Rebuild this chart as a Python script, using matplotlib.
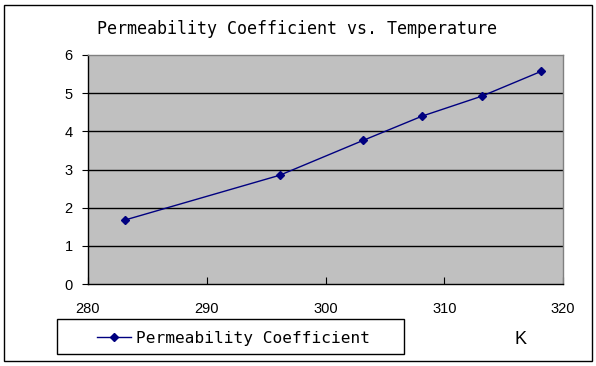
import matplotlib
matplotlib.use("Agg")
import matplotlib.pyplot as plt
from matplotlib.patches import Rectangle

temperature = [283.15, 296.15, 303.15, 308.15, 313.15, 318.15]
permeability = [1.68, 2.85, 3.76, 4.40, 4.92, 5.57]
x_ticks = [280, 290, 300, 310, 320]
y_ticks = [0, 1, 2, 3, 4, 5, 6]
title = "Permeability Coefficient vs. Temperature"
series_name = "Permeability Coefficient"
x_unit = "K"

W, H = 596, 366
fig = plt.figure(figsize=(W / 100, H / 100), dpi=100)
fig.patch.set_facecolor("white")

# outer chart border
fig.patches.append(Rectangle((4 / W, 1 - 361 / H), (592 - 4) / W, (361 - 5) / H,
                             transform=fig.transFigure, fill=False,
                             edgecolor="black", linewidth=1.0))

ax = fig.add_axes([88 / W, 1 - 284 / H, (563 - 88) / W, (284 - 55) / H])
ax.set_facecolor("#C0C0C0")
ax.set_xlim(280, 320)
ax.set_ylim(0, 6)
ax.set_xticks(x_ticks)
ax.set_yticks(y_ticks)
for y in y_ticks[1:-1]:
    ax.axhline(y, color="black", linewidth=1.0, zorder=1)

ax.plot(temperature, permeability, color="#000080", linewidth=1.0,
        marker="D", markersize=4.5, markerfacecolor="#000080",
        markeredgecolor="#000080", zorder=3, label=series_name)

for side in ["top", "right"]:
    ax.spines[side].set_color("#808080")
for side in ["left", "bottom"]:
    ax.spines[side].set_color("black")
for sp in ax.spines.values():
    sp.set_linewidth(1.0)

ax.tick_params(axis="x", direction="in", length=5, pad=13, labelsize=10.5,
               colors="black")
ax.tick_params(axis="y", direction="out", length=4, pad=7, labelsize=10.5,
               colors="black")
for lab in ax.get_xticklabels() + ax.get_yticklabels():
    lab.set_fontfamily("Liberation Sans")

fig.text(297 / W, 1 - 29 / H, title, ha="center", va="center",
         fontsize=12, family="DejaVu Sans Mono")

# legend box
fig.patches.append(Rectangle((57 / W, 1 - 354 / H), (404 - 57) / W, (354 - 319) / H,
                             transform=fig.transFigure, fill=True,
                             facecolor="white", edgecolor="black", linewidth=1.0))
leg = fig.legend(loc="center left", bbox_to_anchor=(97 / W, 1 - 338 / H),
                 frameon=False, prop={"family": "DejaVu Sans Mono", "size": 11.6},
                 handlelength=2.1, handletextpad=0.35, borderpad=0, borderaxespad=0)

fig.text(520 / W, 1 - 339 / H, x_unit, ha="center", va="center",
         fontsize=13, family="Liberation Sans")

fig.savefig("out.png", dpi=100)
